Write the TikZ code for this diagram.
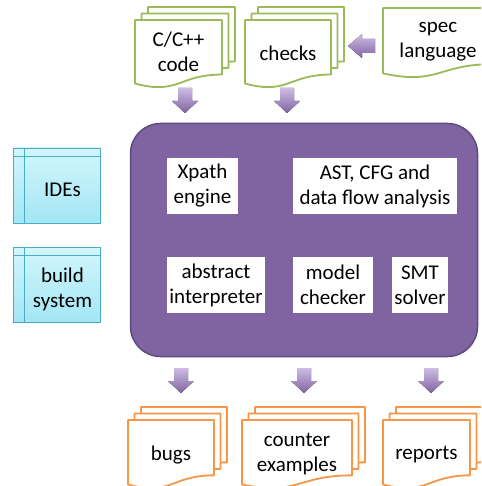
\documentclass[tikz,border=0pt]{standalone}
\usepackage{fontspec}
\setmainfont{Carlito}
\usetikzlibrary{calc}
\definecolor{pfill}{HTML}{8064A2}
\definecolor{pline}{HTML}{5E4A7C}
\definecolor{plight}{HTML}{CDBCE3}
\definecolor{dgreen}{HTML}{9BBB59}
\definecolor{dorange}{HTML}{F79646}
\definecolor{cfillt}{HTML}{D2F6FC}
\definecolor{cfillb}{HTML}{A3E6F4}
\definecolor{cline}{HTML}{4BACC6}
\newcommand\onedoc[5]{%
 \draw[#1, line width=1.8pt, fill=white, line join=round] (#2,#3) -- ++(#4,0) -- ++(0,{0.802*#5}) .. controls ({#2+0.5*#4},{#3+0.802*#5}) and ({#2+0.5*#4},{#3+1.1075*#5}) .. (#2,{#3+0.934*#5}) -- cycle;}
\newcommand\stackdoc[5]{\onedoc{#1}{#2+13}{#3-13}{#4}{#5}\onedoc{#1}{#2+6.5}{#3-6.5}{#4}{#5}\onedoc{#1}{#2}{#3}{#4}{#5}}
\newcommand\dnarrow[2]{%
 \fill[top color=plight, bottom color=pfill] ({#1-7},#2) -- ({#1+7},#2) -- ({#1+7},{#2+13}) -- ({#1+13},{#2+13}) -- (#1,{#2+25}) -- ({#1-13},{#2+13}) -- ({#1-7},{#2+13}) -- cycle;}
\tikzset{
  lbl/.style={font=\fontsize{21}{25}\selectfont, align=center, inner sep=0pt, text=black},
  inbox/.style={fill=white, inner sep=0pt, font=\fontsize{21}{25}\selectfont, align=center},
  tool/.style={draw=cline, line width=0.8pt, top color=cfillt, bottom color=cfillb, minimum width=87pt, minimum height=75pt, inner sep=0pt},
}
\begin{document}
\begin{tikzpicture}[x=1pt,y=-1pt]
\useasboundingbox (0,0) rectangle (481,486);
\clip (0,0) rectangle (481,486);
\fill[white] (0,0) rectangle (481,486);
% input documents
\stackdoc{dgreen}{135}{20}{87}{68}
\stackdoc{dgreen}{245}{20}{86}{68}
\onedoc{dgreen}{383}{8}{110}{70}
\node[lbl] (code) at (178.5,52) {C/C++\\code};
\node[lbl] (checks) at (288,53) {checks};
\node[lbl] (spec) at (438,42) {spec\\language};
% arrows in
\fill[top color=plight, bottom color=pfill] (375,39) -- (362,39) -- (362,34) -- (348,46) -- (362,58) -- (362,53) -- (375,53) -- cycle;
\dnarrow{185}{88}
\dnarrow{287}{88}
% core
\node[draw=pline, fill=pfill, line width=1.5pt, rounded corners=30pt, minimum width=347pt, minimum height=233pt, inner sep=0pt] (core) at (304,240) {};
\node[inbox, minimum width=71pt, minimum height=56pt] (xpath) at (202.5,186) {Xpath\\engine};
\node[inbox, minimum width=164pt, minimum height=56pt] (ast) at (375,186) {AST, CFG and\\data flow analysis};
\node[inbox, minimum width=98pt, minimum height=56pt] (absint) at (216,285) {abstract\\interpreter};
\node[inbox, minimum width=80pt, minimum height=56pt] (mc) at (333,285) {model\\checker};
\node[inbox, minimum width=56pt, minimum height=56pt] (smt) at (420,285) {SMT\\solver};
% tools
\node[tool] (ides) at (56.5,185.5) {};
\node[tool] (build) at (56.5,284.5) {};
\foreach \b in {ides,build}{
  \draw[cline, line width=0.8pt] ($(\b.north west)+(12,0)$) -- ($(\b.south west)+(12,0)$);
  \draw[cline, line width=0.8pt] ($(\b.north west)+(0,9)$) -- ($(\b.north east)+(0,9)$);
}
\node[lbl] (ideslbl) at (62.5,190) {IDEs};
\node[lbl] (buildlbl) at (62.5,289) {build\\system};
% arrows out
\dnarrow{181}{368}
\dnarrow{304}{368}
\dnarrow{431}{368}
% output documents
\stackdoc{dorange}{128}{420}{86}{69}
\stackdoc{dorange}{242}{420}{110}{69}
\stackdoc{dorange}{383}{420}{87}{69}
\node[lbl] (bugs) at (171,455) {bugs};
\node[lbl] (cex) at (297,454) {counter\\examples};
\node[lbl] (reports) at (426.5,455) {reports};
\end{tikzpicture}
\end{document}
